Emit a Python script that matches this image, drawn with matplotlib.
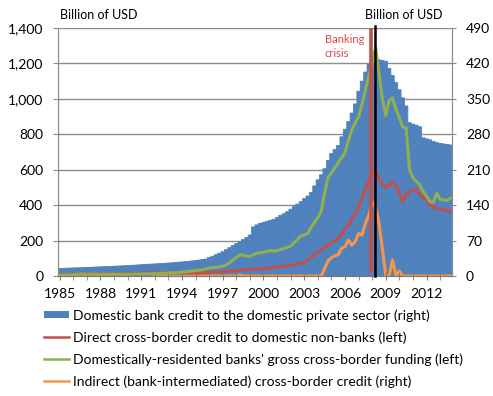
import numpy as np
import pandas as pd
import matplotlib
matplotlib.use('Agg')
import matplotlib.pyplot as plt
from matplotlib.patches import Patch
from matplotlib.lines import Line2D

plt.rcParams['font.family'] = ['Lato', 'DejaVu Sans']

# quarterly data, 1985Q1 - 2013Q4
quarters = pd.period_range('1985Q1', '2013Q4', freq='Q')
tick_years = [1985, 1988, 1991, 1994, 1997, 2000, 2003, 2006, 2009, 2012]

# Domestic bank credit to the domestic private sector (right axis)
bank_credit = [
    15.0, 15.2, 15.4, 15.6,  16.0, 16.1, 16.3, 16.6,  16.9, 17.2, 17.5, 17.8,
    18.1, 18.4, 18.7, 19.0,  19.3, 19.6, 19.9, 20.2,  20.6, 21.0, 21.4, 21.8,
    22.3, 22.7, 23.1, 23.5,  23.9, 24.3, 24.7, 25.1,  25.6, 26.1, 26.6, 27.2,
    27.8, 28.4, 29.1, 29.8,  30.6, 31.5, 32.5, 33.6,  36.5, 39.0, 42.0, 45.0,
    48.0, 52.0, 56.0, 60.0,  64.0, 68.0, 72.0, 76.0,  81.0, 97.0, 101.0, 104.0,
    106, 108, 110, 112,  116, 120, 123, 127,  132, 137, 142, 147,
    153, 158, 165, 178,  190, 200, 212, 228,  242, 250, 258, 275,
    290, 305, 322, 340,  365, 385, 403, 418,  423, 426, 427, 426,
    424, 410, 396, 382,  368, 352, 336, 303,  300, 298, 295, 273,
    271, 269, 266, 264,  262, 261, 260, 259,
]

# Direct cross-border credit to domestic non-banks (left axis)
direct_credit = [
    8, 8, 9, 9,  9, 10, 10, 10,  11, 11, 11, 12,  12, 12, 13, 13,
    13, 14, 14, 14,  15, 15, 15, 16,  16, 16, 17, 17,  17, 18, 18, 18,
    18, 18, 18, 18,  17, 17, 17, 17,  17, 17, 18, 19,  20, 21, 22, 23,
    24, 26, 28, 30,  31, 33, 35, 37,  38, 39, 40, 41,  42, 44, 46, 48,
    50, 53, 55, 57,  60, 63, 67, 72,  78, 88, 105, 122,  138, 150, 162, 175,
    188, 200, 213, 235,  265, 288, 320, 355,  390, 440, 490, 540,
    570, 596, 545, 520,  500, 515, 532, 505,  470, 420, 455, 478,
    486, 486, 460, 448,  430, 400, 390, 383,  378, 374, 370, 366,
]

# Domestically-residented banks' gross cross-border funding (left axis)
gross_funding = [
    5, 5, 6, 6,  6, 7, 7, 7,  7, 8, 8, 8,  8, 9, 9, 9,
    9, 10, 10, 10,  10, 10, 11, 11,  11, 12, 12, 13,  13, 14, 15, 16,
    17, 18, 19, 20,  22, 24, 26, 28,  30, 32, 35, 40,  45, 47, 49, 52,
    56, 62, 75, 90,  105, 119, 117, 113,  110, 119, 128, 132,  134, 138, 143, 141,
    143, 150, 156, 162,  169, 188, 207, 225,  232, 240, 273, 302,  330, 366, 469, 555,
    583, 611, 639, 667,  695, 765, 824, 864,  900, 968, 1053, 1128,
    1200, 1290, 1150, 1000,  905, 990, 1006, 940,  895, 840, 836, 600,
    555, 534, 515, 478,  450, 420, 415, 468,  434, 430, 425, 440,
]

# Indirect (bank-intermediated) cross-border credit (right axis)
indirect_credit = [
    3, 3, 3, 3,  3, 4, 4, 4,  4, 4, 4, 4,  4, 4, 5, 5,
    5, 5, 4, 4,  4, 5, 5, 5,  5, 5, 5, 4,  3, 0, 0, 0,
    0, 0, 0, 0,  0, 0, 0, 0,  0, 0, 0, 0,  0, 0, 0, 0,
    0, 0, 0, 0,  0, 2, 0, 0,  0, 0, 0, 0,  0, 0, 0, 0,
    0, 0, 0, 0,  0, 0, 0, 0,  0, 0, 0, 0,  0, 0, 15, 30,
    36, 40, 42, 55,  58, 71, 61, 68,  84, 81, 104, 120,
    146, 136, 105, 55,  0, 0, 32, 0,  10, 0, 0, 0,
    0, 0, 0, 0,  0, 0, 0, 0,  0, 0, 0, 0,
]

labels = ['Domestic bank credit to the domestic private sector (right)',
          'Direct cross-border credit to domestic non-banks (left)',
          "Domestically-residented banks' gross cross-border funding (left)",
          'Indirect (bank-intermediated) cross-border credit (right)']
colors = ['#4F81BD', '#C0504D', '#8FB04F', '#F79646']

x = np.arange(len(quarters))

fig = plt.figure(figsize=(4.93, 3.96), dpi=100)
ax = fig.add_axes([58/493, 1 - 276/396, 394/493, 248/396])
ax2 = ax.twinx()
ax.set_zorder(ax2.get_zorder() + 1)
ax.patch.set_visible(False)

bars = ax2.bar(x, bank_credit, width=1.0, color=colors[0], edgecolor=colors[0],
               linewidth=0.6)
for b in bars:
    b.set_snap(False)
ax2.plot(x, indirect_credit, color=colors[3], lw=2.2)
ax.plot(x, direct_credit, color=colors[1], lw=2.2)
ax.plot(x, gross_funding, color=colors[2], lw=2.2)

# banking crisis markers
ax.axvline(91.55, ymin=0.02, ymax=1.0, color='#C0504D', lw=2.6, zorder=5)
ax.axvline(92.75, ymin=0, ymax=1.01, color='black', lw=1.8, zorder=6, clip_on=False)
ax.text(78.0, 1368, 'Banking\ncrisis', color='#D9474A', fontsize=8,
        va='top', ha='left', linespacing=1.35)

ax.set_xlim(-0.5, len(x) - 0.5)
ax.set_ylim(0, 1400)
ax2.set_ylim(0, 490)

ax.set_yticks(range(0, 1401, 200))
ax.set_yticklabels(['{:,}'.format(v) for v in range(0, 1401, 200)])
ax2.set_yticks(range(0, 491, 70))

ax.set_xticks([list(quarters.year).index(y) for y in tick_years])
ax.set_xticklabels([str(y) for y in tick_years])
ax.set_xticks(x[::4], minor=True)

ax2.yaxis.grid(True, color='#8c8c8c', lw=1)
ax2.set_axisbelow(True)

for a in (ax, ax2):
    a.spines['top'].set_visible(False)
    a.spines['left'].set_color('#8c8c8c')
    a.spines['right'].set_color('#8c8c8c')
    a.spines['bottom'].set_color('#7a7a7a')

ax.tick_params(axis='y', length=3.5, color='#8c8c8c', pad=7, labelsize=10)
ax2.tick_params(axis='y', length=3, color='#8c8c8c', pad=7, labelsize=10)
ax.tick_params(axis='x', which='both', direction='inout', length=6,
               color='#7a7a7a', pad=6, labelsize=10)

fig.text(60/493, 1 - 15/396, 'Billion of USD', fontsize=9, va='center', ha='left')
fig.text(404/493, 1 - 15/396, 'Billion of USD', fontsize=9, va='center', ha='center')

handles = [Patch(facecolor=colors[0], edgecolor='none'),
           Line2D([], [], color=colors[1], lw=1.8),
           Line2D([], [], color=colors[2], lw=1.8),
           Line2D([], [], color=colors[3], lw=1.8)]
fig.legend(handles, labels, loc='upper left', bbox_to_anchor=(44/493, 1 - 309/396),
           frameon=False, fontsize=10, handlelength=1.8, handleheight=0.4,
           handletextpad=0.3, labelspacing=0.68, borderaxespad=0, borderpad=0)

fig.savefig('out.png', dpi=100)
